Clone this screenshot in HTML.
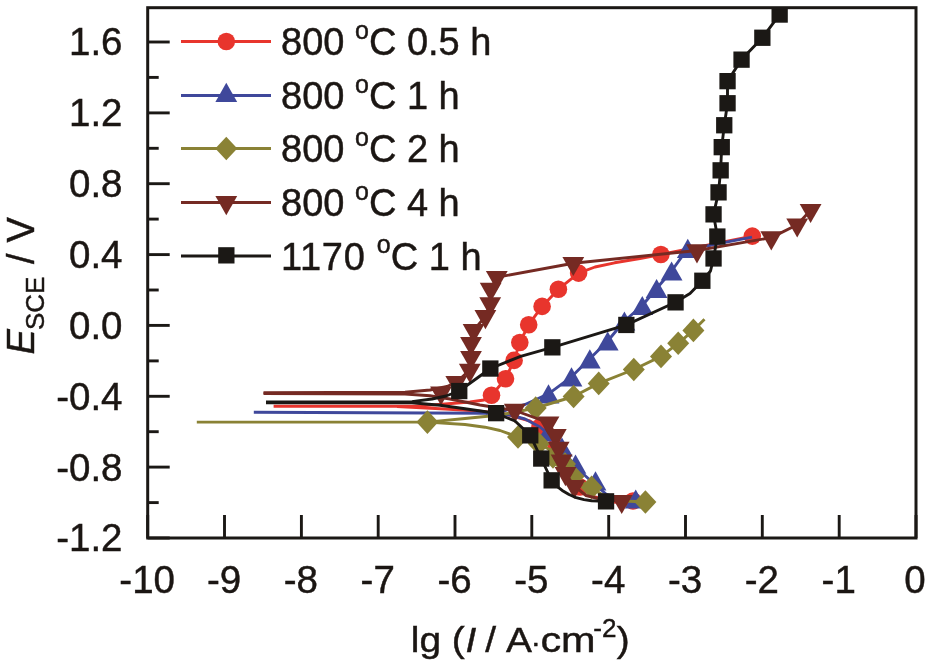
<!DOCTYPE html>
<html><head><meta charset="utf-8"><title>Polarization curves</title>
<style>
html,body{margin:0;padding:0;background:#fff;}
body{width:929px;height:666px;overflow:hidden;}
svg{display:block;}
text{font-family:"Liberation Sans",Arial,Helvetica,sans-serif;fill:#1b1613;stroke:#1b1613;stroke-width:0.45px;}
.tk{font-size:38.5px;}
.lg{font-size:38px;}
.sup{font-size:25px;}
.ttl{font-size:38px;}
.sub{font-size:26px;}
.ytl{font-size:38px;}
.xtl{font-size:36px;}
</style></head>
<body>
<svg width="929" height="666" viewBox="0 0 929 666">
<rect x="0" y="0" width="929" height="666" fill="#ffffff"/>
<defs><clipPath id="plot"><rect x="147.7" y="7.7" width="768.3" height="530.3"/></clipPath></defs>
<g clip-path="url(#plot)">
<polyline points="273.6,406.3 415.0,406.3 445.0,404.0 470.0,402.0 484.0,400.0 491.5,395.5 505.5,378.7 514.1,360.4 519.8,342.5 528.7,324.7 542.1,306.4 558.4,289.2 578.6,273.1 578.6,273.1 595.0,267.0 614.6,262.8 640.0,258.5 660.9,254.5 752.3,236.1" fill="none" stroke="#e8352d" stroke-width="2.9" stroke-linejoin="round" stroke-linecap="butt"/>
<polyline points="397.0,406.5 445.0,409.0 478.0,411.0 505.0,414.0 530.0,421.0 548.0,433.0 558.0,450.0 566.0,468.0 577.0,486.0 595.0,497.0 612.0,502.0 633.0,503.0 642.0,502.0" fill="none" stroke="#e8352d" stroke-width="2.9" stroke-linejoin="round" stroke-linecap="butt"/>
<circle cx="752.3" cy="236.1" r="8.8" fill="#e8352d"/>
<circle cx="660.9" cy="254.5" r="8.8" fill="#e8352d"/>
<circle cx="578.6" cy="273.1" r="8.8" fill="#e8352d"/>
<circle cx="558.4" cy="289.2" r="8.8" fill="#e8352d"/>
<circle cx="542.1" cy="306.4" r="8.8" fill="#e8352d"/>
<circle cx="528.7" cy="324.7" r="8.8" fill="#e8352d"/>
<circle cx="519.8" cy="342.5" r="8.8" fill="#e8352d"/>
<circle cx="514.1" cy="360.4" r="8.8" fill="#e8352d"/>
<circle cx="505.5" cy="378.7" r="8.8" fill="#e8352d"/>
<circle cx="491.5" cy="395.3" r="8.8" fill="#e8352d"/>
<circle cx="540.0" cy="427.0" r="8.8" fill="#e8352d"/>
<circle cx="556.0" cy="447.0" r="8.8" fill="#e8352d"/>
<circle cx="566.0" cy="468.0" r="8.8" fill="#e8352d"/>
<circle cx="580.0" cy="487.0" r="8.8" fill="#e8352d"/>
<circle cx="633.0" cy="501.0" r="8.8" fill="#e8352d"/>
<polyline points="253.8,412.3 486.0,413.2 505.0,410.5 525.0,404.5 548.5,393.8 571.5,376.8 589.8,358.8 607.7,341.0 624.4,321.0 642.3,305.5 656.6,288.5 671.6,271.0 687.8,248.4 711.0,245.2 752.0,237.2" fill="none" stroke="#3f489b" stroke-width="2.9" stroke-linejoin="round" stroke-linecap="butt"/>
<polyline points="486.0,413.2 510.0,415.0 525.0,419.0 540.0,427.0 553.0,438.0 563.0,450.0 575.5,467.0 595.5,485.0 606.0,494.0 620.0,499.5 636.0,501.5 646.0,502.0" fill="none" stroke="#3f489b" stroke-width="2.9" stroke-linejoin="round" stroke-linecap="butt"/>
<polygon points="676.9,258.0 698.7,258.0 687.8,238.8" fill="#3f489b"/>
<polygon points="660.7,280.6 682.5,280.6 671.6,261.4" fill="#3f489b"/>
<polygon points="645.7,298.1 667.5,298.1 656.6,278.9" fill="#3f489b"/>
<polygon points="631.4,315.1 653.2,315.1 642.3,295.9" fill="#3f489b"/>
<polygon points="613.5,330.6 635.3,330.6 624.4,311.4" fill="#3f489b"/>
<polygon points="596.8,350.6 618.6,350.6 607.7,331.4" fill="#3f489b"/>
<polygon points="578.9,368.4 600.7,368.4 589.8,349.2" fill="#3f489b"/>
<polygon points="560.6,386.4 582.4,386.4 571.5,367.2" fill="#3f489b"/>
<polygon points="537.6,403.4 559.4,403.4 548.5,384.2" fill="#3f489b"/>
<polygon points="537.1,441.6 558.9,441.6 548.0,422.4" fill="#3f489b"/>
<polygon points="551.1,456.6 572.9,456.6 562.0,437.4" fill="#3f489b"/>
<polygon points="564.6,473.7 586.4,473.7 575.5,454.5" fill="#3f489b"/>
<polygon points="584.6,490.5 606.4,490.5 595.5,471.3" fill="#3f489b"/>
<polygon points="624.8,508.6 646.6,508.6 635.7,489.4" fill="#3f489b"/>
<polyline points="196.8,422.1 427.4,422.1 465.0,418.5 500.0,415.0 535.7,408.0 573.6,396.5 598.7,383.4 633.8,369.5 661.0,356.4 678.2,343.3 693.4,330.4 704.5,319.3" fill="none" stroke="#8a8235" stroke-width="2.9" stroke-linejoin="round" stroke-linecap="butt"/>
<polyline points="427.4,422.1 465.0,424.5 485.0,427.2 500.0,430.5 518.0,437.0 538.8,443.7 556.0,453.0 568.0,464.0 575.0,478.0 591.6,488.0 606.0,497.0 625.0,501.0 645.4,502.0" fill="none" stroke="#8a8235" stroke-width="2.9" stroke-linejoin="round" stroke-linecap="butt"/>
<polygon points="416.4,422.1 427.4,410.3 438.4,422.1 427.4,433.9" fill="#8a8235"/>
<polygon points="524.7,408.0 535.7,396.2 546.7,408.0 535.7,419.8" fill="#8a8235"/>
<polygon points="562.6,396.5 573.6,384.7 584.6,396.5 573.6,408.3" fill="#8a8235"/>
<polygon points="587.7,383.4 598.7,371.6 609.7,383.4 598.7,395.2" fill="#8a8235"/>
<polygon points="622.8,369.5 633.8,357.7 644.8,369.5 633.8,381.3" fill="#8a8235"/>
<polygon points="650.0,356.4 661.0,344.6 672.0,356.4 661.0,368.2" fill="#8a8235"/>
<polygon points="667.2,343.3 678.2,331.5 689.2,343.3 678.2,355.1" fill="#8a8235"/>
<polygon points="682.4,330.4 693.4,318.6 704.4,330.4 693.4,342.2" fill="#8a8235"/>
<polygon points="507.0,437.0 518.0,425.2 529.0,437.0 518.0,448.8" fill="#8a8235"/>
<polygon points="527.8,443.7 538.8,431.9 549.8,443.7 538.8,455.5" fill="#8a8235"/>
<polygon points="542.0,457.0 553.0,445.2 564.0,457.0 553.0,468.8" fill="#8a8235"/>
<polygon points="554.0,464.0 565.0,452.2 576.0,464.0 565.0,475.8" fill="#8a8235"/>
<polygon points="562.5,476.5 573.5,464.7 584.5,476.5 573.5,488.3" fill="#8a8235"/>
<polygon points="580.6,487.4 591.6,475.6 602.6,487.4 591.6,499.2" fill="#8a8235"/>
<polygon points="634.4,502.0 645.4,490.2 656.4,502.0 645.4,513.8" fill="#8a8235"/>
<polyline points="263.5,392.6 405.0,392.2 430.0,390.0 447.0,386.5 456.3,382.4 469.8,370.0 471.0,357.2 471.0,343.2 473.6,330.4 485.4,316.4 490.2,303.6 490.7,289.1 496.8,277.3 573.3,263.2 697.0,250.5 771.3,237.6 797.2,224.7 810.6,210.2" fill="none" stroke="#752a23" stroke-width="2.9" stroke-linejoin="round" stroke-linecap="butt"/>
<polyline points="263.5,393.6 405.0,394.0 430.0,395.8 450.0,399.0 480.0,405.0 514.8,410.5 548.5,422.7 555.8,435.4 558.7,448.1 561.6,460.8 565.5,473.4 574.3,486.2 586.0,495.5 602.0,499.5 621.7,501.0" fill="none" stroke="#752a23" stroke-width="2.9" stroke-linejoin="round" stroke-linecap="butt"/>
<polygon points="799.7,203.9 821.5,203.9 810.6,223.1" fill="#752a23"/>
<polygon points="786.3,218.4 808.1,218.4 797.2,237.6" fill="#752a23"/>
<polygon points="760.4,231.3 782.2,231.3 771.3,250.5" fill="#752a23"/>
<polygon points="686.1,244.2 707.9,244.2 697.0,263.4" fill="#752a23"/>
<polygon points="562.4,256.9 584.2,256.9 573.3,276.1" fill="#752a23"/>
<polygon points="485.9,271.0 507.7,271.0 496.8,290.2" fill="#752a23"/>
<polygon points="479.8,282.8 501.6,282.8 490.7,302.0" fill="#752a23"/>
<polygon points="479.3,297.3 501.1,297.3 490.2,316.5" fill="#752a23"/>
<polygon points="474.5,310.1 496.3,310.1 485.4,329.3" fill="#752a23"/>
<polygon points="462.7,324.1 484.5,324.1 473.6,343.3" fill="#752a23"/>
<polygon points="460.1,336.9 481.9,336.9 471.0,356.1" fill="#752a23"/>
<polygon points="460.1,350.9 481.9,350.9 471.0,370.1" fill="#752a23"/>
<polygon points="458.9,363.7 480.7,363.7 469.8,382.9" fill="#752a23"/>
<polygon points="445.4,376.1 467.2,376.1 456.3,395.3" fill="#752a23"/>
<polygon points="430.1,386.4 451.9,386.4 441.0,405.6" fill="#752a23"/>
<polygon points="503.9,403.8 525.7,403.8 514.8,423.0" fill="#752a23"/>
<polygon points="537.6,416.4 559.4,416.4 548.5,435.6" fill="#752a23"/>
<polygon points="544.9,429.1 566.7,429.1 555.8,448.3" fill="#752a23"/>
<polygon points="547.8,441.8 569.6,441.8 558.7,461.0" fill="#752a23"/>
<polygon points="550.7,454.5 572.5,454.5 561.6,473.7" fill="#752a23"/>
<polygon points="554.6,467.1 576.4,467.1 565.5,486.3" fill="#752a23"/>
<polygon points="563.4,479.9 585.2,479.9 574.3,499.1" fill="#752a23"/>
<polygon points="610.8,494.9 632.6,494.9 621.7,514.1" fill="#752a23"/>
<polyline points="266.0,402.0 412.0,401.6 432.0,399.0 446.0,396.0 459.2,391.0 490.4,368.5 520.6,356.3 552.4,347.4 626.4,324.9 675.5,302.3 690.0,293.5 702.4,280.7 710.5,271.0 713.5,258.5 717.4,236.6 713.5,214.4 718.5,192.4 720.6,170.3 721.7,147.2 724.3,125.3 727.5,103.3 727.5,81.2 741.5,59.6 762.4,37.7 779.6,14.6" fill="none" stroke="#1b1815" stroke-width="2.9" stroke-linejoin="round" stroke-linecap="butt"/>
<polyline points="266.0,402.8 412.0,402.8 440.0,405.3 465.0,408.8 496.1,413.3 515.0,421.0 530.3,435.4 541.2,458.5 551.6,480.3 556.0,485.6 562.2,490.4 569.0,494.5 576.2,497.7 584.0,499.6 591.6,500.7 606.0,501.3" fill="none" stroke="#1b1815" stroke-width="2.9" stroke-linejoin="round" stroke-linecap="butt"/>
<rect x="771.5" y="6.4" width="16.3" height="16.3" fill="#1b1815"/>
<rect x="754.2" y="29.6" width="16.3" height="16.3" fill="#1b1815"/>
<rect x="733.4" y="51.5" width="16.3" height="16.3" fill="#1b1815"/>
<rect x="719.4" y="73.0" width="16.3" height="16.3" fill="#1b1815"/>
<rect x="719.4" y="95.1" width="16.3" height="16.3" fill="#1b1815"/>
<rect x="716.1" y="117.1" width="16.3" height="16.3" fill="#1b1815"/>
<rect x="713.6" y="139.0" width="16.3" height="16.3" fill="#1b1815"/>
<rect x="712.5" y="162.2" width="16.3" height="16.3" fill="#1b1815"/>
<rect x="710.4" y="184.2" width="16.3" height="16.3" fill="#1b1815"/>
<rect x="705.4" y="206.2" width="16.3" height="16.3" fill="#1b1815"/>
<rect x="709.2" y="228.4" width="16.3" height="16.3" fill="#1b1815"/>
<rect x="705.4" y="250.3" width="16.3" height="16.3" fill="#1b1815"/>
<rect x="694.2" y="272.6" width="16.3" height="16.3" fill="#1b1815"/>
<rect x="667.4" y="294.2" width="16.3" height="16.3" fill="#1b1815"/>
<rect x="618.2" y="316.8" width="16.3" height="16.3" fill="#1b1815"/>
<rect x="544.2" y="339.2" width="16.3" height="16.3" fill="#1b1815"/>
<rect x="482.2" y="360.4" width="16.3" height="16.3" fill="#1b1815"/>
<rect x="451.1" y="382.9" width="16.3" height="16.3" fill="#1b1815"/>
<rect x="488.0" y="405.0" width="16.3" height="16.3" fill="#1b1815"/>
<rect x="522.1" y="427.2" width="16.3" height="16.3" fill="#1b1815"/>
<rect x="533.1" y="450.4" width="16.3" height="16.3" fill="#1b1815"/>
<rect x="543.5" y="472.2" width="16.3" height="16.3" fill="#1b1815"/>
<rect x="597.9" y="493.2" width="16.3" height="16.3" fill="#1b1815"/>
</g>
<rect x="147.7" y="7.7" width="768.3" height="530.3" fill="none" stroke="#1b1815" stroke-width="3"/>
<line x1="147.7" y1="538.0" x2="169.7" y2="538.0" stroke="#1b1815" stroke-width="2.9"/>
<line x1="147.7" y1="502.6" x2="158.7" y2="502.6" stroke="#1b1815" stroke-width="2.9"/>
<line x1="147.7" y1="467.1" x2="169.7" y2="467.1" stroke="#1b1815" stroke-width="2.9"/>
<line x1="147.7" y1="431.7" x2="158.7" y2="431.7" stroke="#1b1815" stroke-width="2.9"/>
<line x1="147.7" y1="396.3" x2="169.7" y2="396.3" stroke="#1b1815" stroke-width="2.9"/>
<line x1="147.7" y1="360.9" x2="158.7" y2="360.9" stroke="#1b1815" stroke-width="2.9"/>
<line x1="147.7" y1="325.4" x2="169.7" y2="325.4" stroke="#1b1815" stroke-width="2.9"/>
<line x1="147.7" y1="290.0" x2="158.7" y2="290.0" stroke="#1b1815" stroke-width="2.9"/>
<line x1="147.7" y1="254.6" x2="169.7" y2="254.6" stroke="#1b1815" stroke-width="2.9"/>
<line x1="147.7" y1="219.1" x2="158.7" y2="219.1" stroke="#1b1815" stroke-width="2.9"/>
<line x1="147.7" y1="183.7" x2="169.7" y2="183.7" stroke="#1b1815" stroke-width="2.9"/>
<line x1="147.7" y1="148.3" x2="158.7" y2="148.3" stroke="#1b1815" stroke-width="2.9"/>
<line x1="147.7" y1="112.9" x2="169.7" y2="112.9" stroke="#1b1815" stroke-width="2.9"/>
<line x1="147.7" y1="77.4" x2="158.7" y2="77.4" stroke="#1b1815" stroke-width="2.9"/>
<line x1="147.7" y1="42.0" x2="169.7" y2="42.0" stroke="#1b1815" stroke-width="2.9"/>
<line x1="147.7" y1="538.0" x2="147.7" y2="515.0" stroke="#1b1815" stroke-width="2.9"/>
<line x1="224.5" y1="538.0" x2="224.5" y2="515.0" stroke="#1b1815" stroke-width="2.9"/>
<line x1="301.4" y1="538.0" x2="301.4" y2="515.0" stroke="#1b1815" stroke-width="2.9"/>
<line x1="378.2" y1="538.0" x2="378.2" y2="515.0" stroke="#1b1815" stroke-width="2.9"/>
<line x1="455.0" y1="538.0" x2="455.0" y2="515.0" stroke="#1b1815" stroke-width="2.9"/>
<line x1="531.8" y1="538.0" x2="531.8" y2="515.0" stroke="#1b1815" stroke-width="2.9"/>
<line x1="608.7" y1="538.0" x2="608.7" y2="515.0" stroke="#1b1815" stroke-width="2.9"/>
<line x1="685.5" y1="538.0" x2="685.5" y2="515.0" stroke="#1b1815" stroke-width="2.9"/>
<line x1="762.3" y1="538.0" x2="762.3" y2="515.0" stroke="#1b1815" stroke-width="2.9"/>
<line x1="839.2" y1="538.0" x2="839.2" y2="515.0" stroke="#1b1815" stroke-width="2.9"/>
<line x1="916.0" y1="538.0" x2="916.0" y2="515.0" stroke="#1b1815" stroke-width="2.9"/>
<text x="122.5" y="55.4" text-anchor="end" class="tk">1.6</text>
<text x="122.5" y="126.3" text-anchor="end" class="tk">1.2</text>
<text x="122.5" y="197.1" text-anchor="end" class="tk">0.8</text>
<text x="122.5" y="268.0" text-anchor="end" class="tk">0.4</text>
<text x="122.5" y="338.8" text-anchor="end" class="tk">0.0</text>
<text x="122.5" y="409.7" text-anchor="end" class="tk">-0.4</text>
<text x="122.5" y="480.5" text-anchor="end" class="tk">-0.8</text>
<text x="122.5" y="551.4" text-anchor="end" class="tk">-1.2</text>
<text x="147.2" y="593" text-anchor="middle" class="tk">-10</text>
<text x="224.0" y="593" text-anchor="middle" class="tk">-9</text>
<text x="300.9" y="593" text-anchor="middle" class="tk">-8</text>
<text x="377.7" y="593" text-anchor="middle" class="tk">-7</text>
<text x="454.5" y="593" text-anchor="middle" class="tk">-6</text>
<text x="531.3" y="593" text-anchor="middle" class="tk">-5</text>
<text x="608.2" y="593" text-anchor="middle" class="tk">-4</text>
<text x="685.0" y="593" text-anchor="middle" class="tk">-3</text>
<text x="761.8" y="593" text-anchor="middle" class="tk">-2</text>
<text x="838.7" y="593" text-anchor="middle" class="tk">-1</text>
<text x="915.0" y="593" text-anchor="middle" class="tk">0</text>
<line x1="181" y1="41.5" x2="271" y2="41.5" stroke="#e8352d" stroke-width="2.9"/>
<circle cx="226.3" cy="41.5" r="8.8" fill="#e8352d"/>
<text x="281" y="55.3" class="lg">800 <tspan class="sup" dy="-16.5">o</tspan><tspan dy="16.5">C 0.5 h</tspan></text>
<line x1="181" y1="95.5" x2="271" y2="95.5" stroke="#3f489b" stroke-width="2.9"/>
<polygon points="215.4,101.9 237.2,101.9 226.3,82.7" fill="#3f489b"/>
<text x="281" y="109.3" class="lg">800 <tspan class="sup" dy="-16.5">o</tspan><tspan dy="16.5">C 1 h</tspan></text>
<line x1="181" y1="148.5" x2="271" y2="148.5" stroke="#8a8235" stroke-width="2.9"/>
<polygon points="215.3,148.5 226.3,136.7 237.3,148.5 226.3,160.3" fill="#8a8235"/>
<text x="281" y="162.3" class="lg">800 <tspan class="sup" dy="-16.5">o</tspan><tspan dy="16.5">C 2 h</tspan></text>
<line x1="181" y1="202.5" x2="271" y2="202.5" stroke="#752a23" stroke-width="2.9"/>
<polygon points="215.4,196.1 237.2,196.1 226.3,215.3" fill="#752a23"/>
<text x="281" y="216.3" class="lg">800 <tspan class="sup" dy="-16.5">o</tspan><tspan dy="16.5">C 4 h</tspan></text>
<line x1="181" y1="256" x2="271" y2="256" stroke="#1b1815" stroke-width="2.9"/>
<rect x="218.2" y="247.2" width="16.3" height="16.3" fill="#1b1815"/>
<text x="281" y="269.8" class="lg"><tspan letter-spacing="0.7">1170 </tspan><tspan class="sup" dy="-16.5">o</tspan><tspan dy="16.5">C 1 h</tspan></text>
<text class="ytl" transform="translate(33.7,354.6) rotate(-90)"><tspan font-style="italic" x="0">E</tspan><tspan class="sub" x="24.6" dy="10.5">SCE</tspan><tspan x="90.6" dy="-10.5">/</tspan><tspan x="112">V</tspan></text>
<text class="xtl" transform="translate(410.8,652.4) scale(1.08,1)" >lg</text>
<text class="xtl" transform="translate(451.8,652.4) scale(1.08,1)" >(</text>
<text class="xtl" transform="translate(465.6,652.4) scale(1.08,1)" font-style="italic">I</text>
<text class="xtl" transform="translate(485.3,652.4) scale(1.08,1)" >/</text>
<text class="xtl" transform="translate(506,652.4) scale(1.08,1)" >A</text>
<text class="xtl" transform="translate(530.8,652.4) scale(1.08,1)" style="font-size:28px">·</text>
<text class="xtl" transform="translate(540.4,652.4) scale(1.15,1)" >cm</text>
<text class="xtl" transform="translate(593.3,636.7) scale(1.0,1)" style="font-size:26px">-2</text>
<text class="xtl" transform="translate(616.8,652.4) scale(1.08,1)" >)</text>
</svg>
</body></html>
